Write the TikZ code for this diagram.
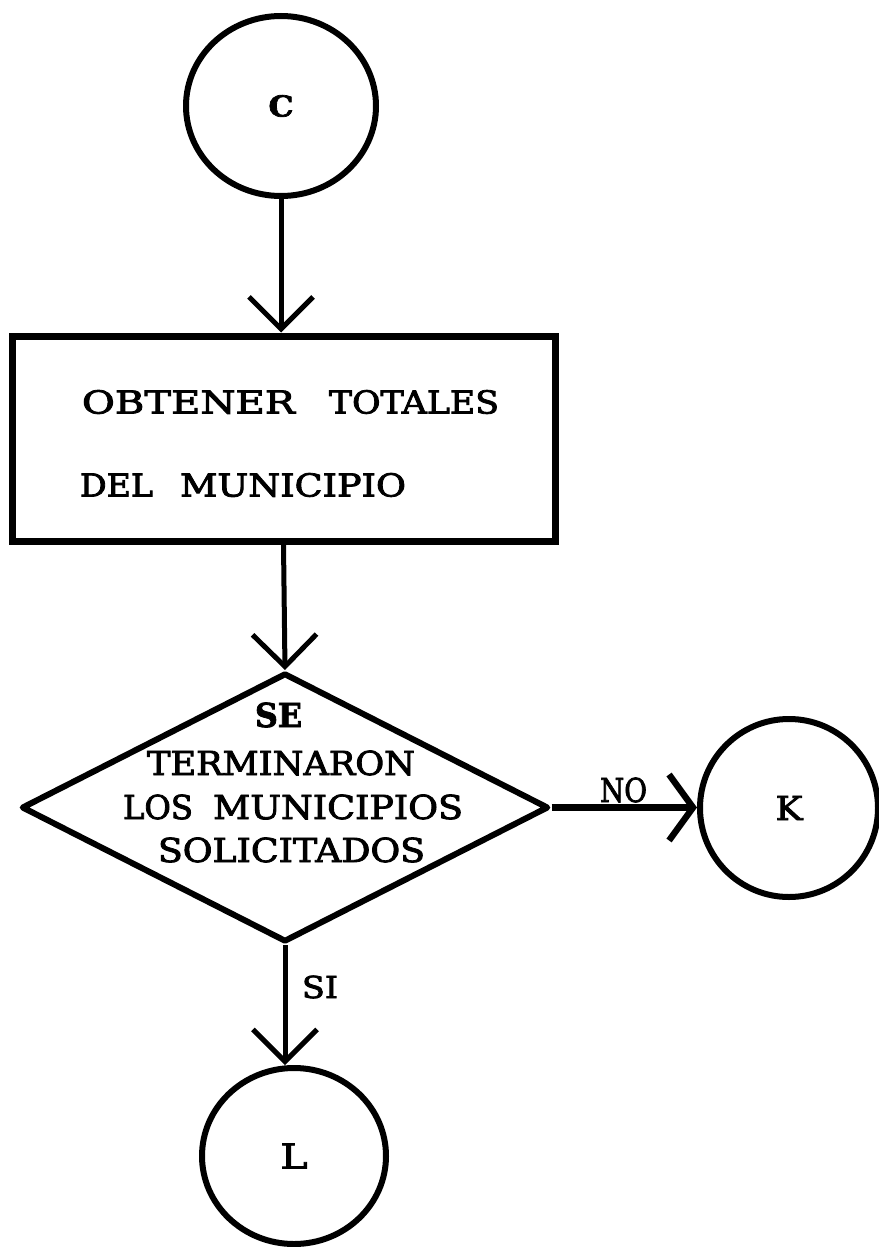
\documentclass[tikz,border=0pt]{standalone}
\usepackage{fontspec}
\setmainfont{DejaVu Serif}
\newfontfamily\heavyserif[FakeBold=2.5]{DejaVu Serif}
\usepackage{graphicx}
\usetikzlibrary{arrows.meta,shapes.geometric}
\newlength\pxu
\setlength\pxu{0.5pt}
% #1 = width in px, #2 = font size in pt, #3 = text
\newcommand\fitw[3]{\resizebox{#1\pxu}{\height}{\fontsize{#2pt}{#2pt}\selectfont #3}}
\tikzset{
  term/.style={ellipse, draw, line width=3pt, inner sep=0pt, font=\heavyserif},
  procbox/.style={rectangle, draw, line width=3.5pt, inner sep=0pt, minimum width=543\pxu, minimum height=205\pxu},
  decision/.style={diamond, draw, line width=3pt, line join=round, inner sep=0pt, minimum width=527\pxu, minimum height=269\pxu},
  txt/.style={inner sep=0pt, anchor=center, font=\heavyserif},
  conn/.style={line width=2.5pt, -{Straight Barb[length=16pt,width=32pt]}},
  connside/.style={line width=3.2pt, -{Straight Barb[length=12pt,width=33pt]}},
}
\begin{document}
\begin{tikzpicture}[x=0.5pt,y=-0.5pt]
\fill[white] (0,0) rectangle (878,1247);
\useasboundingbox (0,0) rectangle (878,1247);

\node[term, minimum width=190\pxu, minimum height=180\pxu] (C) at (281,106) {\fitw{25}{14.4}{\bfseries C}};

\node[procbox] (box) at (283.5,438.5) {};
\node[txt] (t1) at (290.5,402) {\fitw{213}{15.8}{OBTENER}\hspace{34\pxu}\fitw{170}{15.8}{TOTALES}};
\node[txt] (t2) at (243,485) {\fitw{73}{15.8}{DEL}\hspace{27\pxu}\fitw{226}{15.8}{MUNICIPIO}};

\node[decision] (dia) at (285,807.5) {};
\node[txt] (d1) at (278.5,715) {\fitw{47}{16.5}{\bfseries SE}};
\node[txt] (d2) at (281,763) {\fitw{268}{16.5}{TERMINARON}};
\node[txt] (d3) at (293,807) {\fitw{70}{16.5}{LOS}\hspace{20\pxu}\fitw{250}{16.5}{MUNICIPIOS}};
\node[txt] (d4) at (291.5,850) {\fitw{267}{16.5}{SOLICITADOS}};

\node[term, minimum width=178\pxu, minimum height=178\pxu] (K) at (789,808) {\fitw{27}{16.5}{K}};
\node[term, minimum width=184\pxu, minimum height=176\pxu] (L) at (294,1156) {\fitw{27}{17.2}{L}};

\draw[conn] (C.south) -- (C.south |- box.north);
\draw[conn] (box.south) -- (dia.north);
\draw[connside] (dia.east) -- (dia.east -| K.west);
\draw[conn] (dia.south) -- (dia.south |- L.north);

\node[txt] (no) at (623.5,790) {\fitw{47}{16.5}{NO}};
\node[txt] (si) at (320,987) {\fitw{36}{15.1}{SI}};
\end{tikzpicture}
\end{document}
